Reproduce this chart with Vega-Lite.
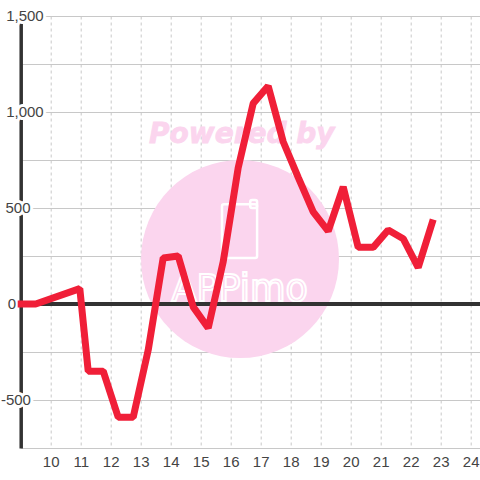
{"$schema":"https://vega.github.io/schema/vega-lite/v6.json","width":459.3,"height":432,"autosize":{"type":"none"},"padding":{"left":20.7,"top":16,"right":0,"bottom":32},"background":"#ffffff","config":{"view":{"stroke":null},"font":"Liberation Sans"},
"datasets":{"line":[{"h":8.9,"v":0},{"h":9.5,"v":0},{"h":10.97,"v":80},{"h":11.25,"v":-350},{"h":11.75,"v":-350},{"h":12.25,"v":-590},{"h":12.75,"v":-590},{"h":13.25,"v":-240},{"h":13.75,"v":240},{"h":14.25,"v":250},{"h":14.75,"v":-15},{"h":15.25,"v":-125},{"h":15.75,"v":220},{"h":16.25,"v":710},{"h":16.75,"v":1045},{"h":17.25,"v":1135},{"h":17.75,"v":845},{"h":18.25,"v":660},{"h":18.75,"v":480},{"h":19.25,"v":380},{"h":19.75,"v":610},{"h":20.25,"v":295},{"h":20.75,"v":295},{"h":21.25,"v":385},{"h":21.75,"v":340},{"h":22.25,"v":190},{"h":22.75,"v":440}],
"labels":[{"h":9.14,"v":1500,"t":"1,500"},{"h":9.14,"v":1000,"t":"1,000"},{"h":8.91,"v":500,"t":"500"},{"h":8.71,"v":0,"t":"0"},{"h":8.84,"v":-500,"t":"-500"}]},
"data":{"name":"line"},
"encoding":{"x":{"field":"h","type":"quantitative","scale":{"domain":[9,24.31],"nice":false,"zero":false},"axis":{"values":[10,11,12,13,14,15,16,17,18,19,20,21,22,23,24],"format":"d","title":null,"grid":true,"gridColor":"#c8c8c8","gridDash":[3,3],"gridWidth":1,"domain":false,"ticks":false,"labelFontSize":15,"labelColor":"#444444","labelPadding":6,"labelFont":"Liberation Sans","labelFlush":false,"labelOverlap":false,"labelSeparation":0,"labelBound":false}},"y":{"field":"v","type":"quantitative","scale":{"domain":[-750,1500],"nice":false,"zero":false},"axis":{"values":[-750,-500,-250,0,250,500,750,1000,1250,1500],"title":null,"grid":true,"gridColor":"#c8c8c8","gridWidth":1,"domain":true,"domainColor":"#333333","domainWidth":3.5,"ticks":false,"labels":false}}},
"layer":[
{"data":{"values":[{"h":16.31,"v":234}]},"mark":{"type":"point","filled":true,"color":"#fbd5ee","opacity":1,"size":39204}},
{"data":{"values":[{"h":16.37,"v":880,"t":"Powered by"}]},"mark":{"type":"text","font":"DejaVu Sans","fontStyle":"italic","fontWeight":"bold","fontSize":28,"color":"#fbd5ee","stroke":"#fbd5ee","strokeWidth":0.8,"align":"center","baseline":"middle"},"encoding":{"text":{"field":"t"}}},
{"data":{"values":[{"h":15.71,"h2":16.88,"v":240,"v2":520},{"h":16.65,"h2":16.88,"v":500,"v2":542}]},"mark":{"type":"rect","fill":null,"stroke":"#ffffff","strokeWidth":2.5,"cornerRadius":2},"encoding":{"x2":{"field":"h2"},"y2":{"field":"v2"}}},
{"data":{"values":[{"h":16.3,"v":73,"t":"APPimo"}]},"mark":{"type":"text","font":"DejaVu Sans","fontSize":36.5,"fill":null,"stroke":"#ffffff","strokeWidth":2,"align":"center","baseline":"middle"},"encoding":{"text":{"field":"t"}}},
{"mark":{"type":"rule","color":"#333333","strokeWidth":3.5},"encoding":{"x":{"value":0},"x2":{"value":459.3},"y":{"datum":0,"type":"quantitative"}}},
{"data":{"name":"labels"},"mark":{"type":"text","clip":false,"font":"Liberation Sans","fontSize":15,"fill":"#ffffff","stroke":"#ffffff","strokeWidth":6,"align":"center","baseline":"middle"},"encoding":{"text":{"field":"t"}}},
{"data":{"name":"labels"},"mark":{"type":"text","clip":false,"font":"Liberation Sans","fontSize":15,"fill":"#444444","align":"center","baseline":"middle"},"encoding":{"text":{"field":"t"}}},
{"mark":{"type":"line","color":"#f01f38","strokeWidth":7,"strokeJoin":"bevel","interpolate":"linear","clip":false}}
]}
